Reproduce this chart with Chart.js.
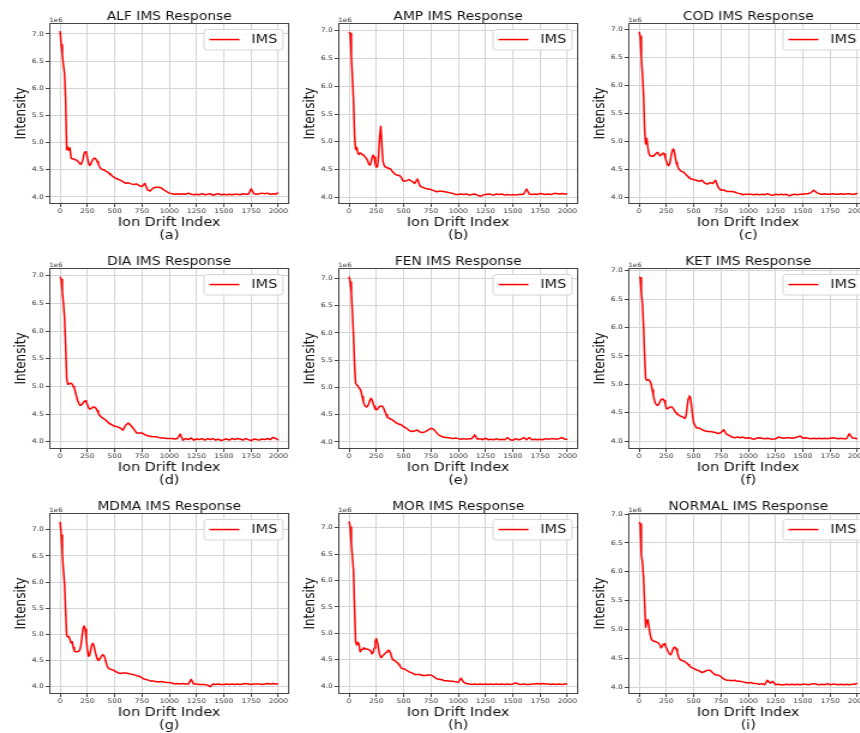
<!DOCTYPE html>
<html>
<head>
<meta charset="utf-8">
<title>IMS Response</title>
<script src="https://cdn.jsdelivr.net/npm/chart.js@4.4.1/dist/chart.umd.min.js"></script>
<style>
  html, body { margin: 0; padding: 0; background: #fff; }
  #grid { position: relative; width: 860px; height: 733px; overflow: hidden; }
  .panel { position: absolute; transform: scaleX(1.2); transform-origin: 0 0; }
  .panel canvas { display: block; }
</style>
</head>
<body>
<div id="grid"></div>
<script>
// Sampled ion drift indices (fine steps on the early peaks, coarser on the flat tail)
const driftIndex = [
  0, 10, 20, 30, 40, 50, 60, 70, 80, 90,
  100, 110, 120, 130, 140, 150, 160, 170, 180, 190,
  200, 210, 220, 230, 240, 250, 260, 270, 280, 290,
  300, 310, 320, 330, 340, 350, 360, 370, 380, 390,
  400, 410, 420, 430, 440, 450, 460, 470, 480, 490,
  500,
  525, 550, 575, 600, 625, 650, 675, 700, 725, 750, 775, 800,
  825, 850, 875, 900, 925, 950, 975, 1000, 1025, 1050, 1075, 1100,
  1125, 1150, 1175, 1200, 1225, 1250, 1275, 1300, 1325, 1350, 1375, 1400,
  1425, 1450, 1475, 1500, 1525, 1550, 1575, 1600, 1625, 1650, 1675, 1700,
  1725, 1750, 1775, 1800, 1825, 1850, 1875, 1900, 1925, 1950, 1975, 2000
];

const xTicks = [0, 250, 500, 750, 1000, 1250, 1500, 1750, 2000];
const yTicks = [4.0, 4.5, 5.0, 5.5, 6.0, 6.5, 7.0];

const samples = ['ALF', 'AMP', 'COD', 'DIA', 'FEN', 'KET', 'MDMA', 'MOR', 'NORMAL'];
const subLabels = ['(a)', '(b)', '(c)', '(d)', '(e)', '(f)', '(g)', '(h)', '(i)'];

// y-axis limits per panel (x1e6)
const yMin = [3.87, 3.88, 3.875, 3.87, 3.87, 3.86, 3.86, 3.85, 3.88];
const yMax = [7.20, 7.14, 7.12, 7.14, 7.19, 7.05, 7.32, 7.28, 7.02];

// Intensity values, x1e6
const alf = [
  7.05, 6.8, 6.62, 6.42, 6.28, 5.8, 4.87, 4.92, 4.86, 4.9,
  4.72, 4.7, 4.7, 4.69, 4.68, 4.68, 4.66, 4.64, 4.61, 4.6,
  4.63, 4.7, 4.8, 4.83, 4.82, 4.72, 4.62, 4.58, 4.6, 4.65,
  4.69, 4.71, 4.71, 4.69, 4.65, 4.6, 4.56, 4.53, 4.51, 4.5,
  4.5, 4.49, 4.47, 4.46, 4.45, 4.43, 4.41, 4.4, 4.38, 4.37,
  4.35,
  4.33, 4.31, 4.28, 4.25, 4.26, 4.24, 4.23, 4.24, 4.21, 4.19, 4.25, 4.13,
  4.11, 4.16, 4.18, 4.18, 4.17, 4.13, 4.1, 4.07, 4.06, 4.05, 4.06, 4.05,
  4.06, 4.05, 4.07, 4.05, 4.04, 4.05, 4.04, 4.06, 4.04, 4.05, 4.06, 4.03,
  4.05, 4.06, 4.04, 4.05, 4.04, 4.05, 4.04, 4.05, 4.05, 4.04, 4.06, 4.05,
  4.05, 4.15, 4.06, 4.05, 4.06, 4.07, 4.06, 4.07, 4.05, 4.06, 4.05, 4.08
];
const amp = [
  6.98, 6.95, 6.55, 6.17, 5.75, 5.1, 4.86, 4.9, 4.8, 4.77,
  4.8, 4.79, 4.77, 4.76, 4.74, 4.72, 4.7, 4.66, 4.6, 4.58,
  4.62, 4.72, 4.76, 4.72, 4.6, 4.54, 4.56, 4.75, 5.1, 5.28,
  4.95, 4.65, 4.58, 4.55, 4.54, 4.53, 4.52, 4.52, 4.51, 4.48,
  4.46, 4.44, 4.42, 4.41, 4.4, 4.4, 4.4, 4.38, 4.35, 4.31,
  4.29,
  4.3, 4.32, 4.29, 4.25, 4.33, 4.2, 4.18, 4.16, 4.15, 4.14, 4.12, 4.1,
  4.11, 4.11, 4.1, 4.09, 4.08, 4.07, 4.05, 4.05, 4.06, 4.05, 4.06, 4.04,
  4.05, 4.06, 4.04, 4.02, 4.04, 4.05, 4.06, 4.05, 4.04, 4.06, 4.05, 4.06,
  4.04, 4.05, 4.04, 4.05, 4.04, 4.05, 4.05, 4.06, 4.15, 4.06, 4.05, 4.06,
  4.05, 4.07, 4.06, 4.05, 4.06, 4.05, 4.07, 4.07, 4.06, 4.07, 4.06, 4.06
];
const cod = [
  6.96, 6.88, 6.5, 6.2, 5.85, 5.2, 4.95, 5.05, 4.88, 4.78,
  4.74, 4.73, 4.73, 4.74, 4.75, 4.77, 4.79, 4.8, 4.77, 4.74,
  4.75, 4.77, 4.79, 4.77, 4.7, 4.64, 4.58, 4.56, 4.6, 4.7,
  4.8, 4.86, 4.84, 4.72, 4.62, 4.56, 4.52, 4.49, 4.47, 4.46,
  4.45, 4.44, 4.42, 4.4, 4.38, 4.36, 4.34, 4.33, 4.32, 4.32,
  4.31,
  4.3, 4.28, 4.3, 4.25, 4.23, 4.26, 4.24, 4.3, 4.17, 4.12, 4.13, 4.1,
  4.1, 4.1, 4.09, 4.07, 4.06, 4.04, 4.05, 4.05, 4.05, 4.04, 4.05, 4.04,
  4.05, 4.04, 4.06, 4.04, 4.03, 4.05, 4.04, 4.05, 4.04, 4.05, 4.02, 4.04,
  4.05, 4.04, 4.05, 4.05, 4.06, 4.06, 4.08, 4.12, 4.08, 4.06, 4.05, 4.06,
  4.05, 4.05, 4.06, 4.05, 4.05, 4.06, 4.05, 4.06, 4.06, 4.05, 4.05, 4.07
];
const dia = [
  6.98, 6.93, 6.72, 6.5, 6.25, 5.75, 5.15, 5.04, 5.04, 5.06,
  5.06, 5.04, 5.0, 4.97, 4.9, 4.82, 4.75, 4.7, 4.66, 4.66,
  4.68, 4.7, 4.73, 4.74, 4.72, 4.67, 4.62, 4.59, 4.6, 4.61,
  4.63, 4.63, 4.62, 4.6, 4.56, 4.52, 4.48, 4.46, 4.44, 4.43,
  4.42, 4.4, 4.39, 4.37, 4.35, 4.33, 4.32, 4.31, 4.3, 4.29,
  4.28,
  4.27, 4.25, 4.21, 4.3, 4.34, 4.29, 4.23, 4.16, 4.16, 4.16, 4.13, 4.11,
  4.1, 4.09, 4.09, 4.08, 4.07, 4.07, 4.06, 4.06, 4.06, 4.05, 4.06, 4.14,
  4.03, 4.06, 4.04, 4.07, 4.03, 4.05, 4.04, 4.06, 4.03, 4.06, 4.04, 4.06,
  4.03, 4.05, 4.02, 4.04, 4.05, 4.03, 4.06, 4.04, 4.06, 4.05, 4.03, 4.06,
  4.04, 4.02, 4.05, 4.04, 4.03, 4.05, 4.04, 4.06, 4.04, 4.08, 4.06, 4.03
];
const fen = [
  7.03, 6.93, 6.75, 6.38, 5.95, 5.4, 5.07, 5.05, 5.03, 4.99,
  4.97, 4.92, 4.83, 4.74, 4.68, 4.65, 4.64, 4.66, 4.7, 4.76,
  4.8, 4.77, 4.71, 4.65, 4.6, 4.59, 4.6, 4.63, 4.65, 4.66,
  4.66, 4.64, 4.6, 4.55, 4.5, 4.45, 4.44, 4.43, 4.42, 4.41,
  4.4, 4.38, 4.37, 4.35, 4.34, 4.33, 4.32, 4.32, 4.31, 4.29,
  4.28,
  4.25, 4.21, 4.19, 4.2, 4.22, 4.18, 4.17, 4.19, 4.22, 4.25, 4.23, 4.17,
  4.12, 4.1, 4.08, 4.08, 4.07, 4.06, 4.07, 4.06, 4.05, 4.06, 4.05, 4.06,
  4.06, 4.13, 4.05, 4.06, 4.04, 4.07, 4.04, 4.05, 4.04, 4.06, 4.04, 4.05,
  4.04, 4.08, 4.04, 4.03, 4.06, 4.04, 4.05, 4.08, 4.04, 4.08, 4.04, 4.05,
  4.04, 4.05, 4.04, 4.06, 4.05, 4.06, 4.06, 4.05, 4.06, 4.08, 4.05, 4.05
];
const ket = [
  6.89, 6.88, 6.63, 6.42, 6.04, 5.5, 5.1, 5.07, 5.08, 5.08,
  5.05, 5.0, 4.9, 4.8, 4.72, 4.66, 4.64, 4.63, 4.65, 4.69,
  4.73, 4.74, 4.74, 4.71, 4.65, 4.57, 4.57, 4.58, 4.6, 4.6,
  4.6, 4.58, 4.55, 4.52, 4.49, 4.47, 4.46, 4.45, 4.44, 4.43,
  4.42, 4.41, 4.4, 4.45, 4.6, 4.75, 4.8, 4.76, 4.62, 4.45,
  4.32,
  4.23, 4.23, 4.2, 4.18, 4.17, 4.17, 4.16, 4.15, 4.13, 4.15, 4.2, 4.12,
  4.1, 4.07, 4.06, 4.07, 4.06, 4.07, 4.05, 4.06, 4.05, 4.03, 4.05, 4.06,
  4.05, 4.04, 4.05, 4.04, 4.03, 4.04, 4.07, 4.06, 4.05, 4.06, 4.06, 4.05,
  4.06, 4.07, 4.09, 4.05, 4.06, 4.05, 4.04, 4.05, 4.04, 4.05, 4.04, 4.05,
  4.04, 4.05, 4.06, 4.05, 4.04, 4.05, 4.04, 4.04, 4.13, 4.06, 4.05, 4.04
];
const mdma = [
  7.15, 6.9, 6.54, 6.22, 5.97, 5.46, 4.98, 4.95, 4.96, 4.9,
  4.84, 4.86, 4.75, 4.68, 4.67, 4.67, 4.67, 4.68, 4.7, 4.78,
  4.95, 5.12, 5.16, 5.1, 4.9, 4.7, 4.58, 4.6, 4.7, 4.8,
  4.83, 4.78, 4.68, 4.6, 4.53, 4.5, 4.52, 4.55, 4.59, 4.61,
  4.6, 4.55, 4.47, 4.4, 4.36, 4.34, 4.34, 4.33, 4.32, 4.31,
  4.3,
  4.27, 4.25, 4.26, 4.26, 4.25, 4.24, 4.23, 4.21, 4.2, 4.17, 4.14, 4.13,
  4.11, 4.11, 4.1, 4.09, 4.1, 4.09, 4.08, 4.08, 4.07, 4.05, 4.06, 4.05,
  4.06, 4.05, 4.05, 4.14, 4.05, 4.05, 4.04, 4.04, 4.04, 4.03, 4.0, 4.05,
  4.04, 4.05, 4.04, 4.04, 4.05, 4.04, 4.05, 4.04, 4.05, 4.04, 4.05, 4.06,
  4.05, 4.04, 4.05, 4.05, 4.05, 4.04, 4.05, 4.06, 4.05, 4.06, 4.05, 4.05
];
const mor = [
  7.12, 7.01, 6.7, 6.45, 6.19, 5.44, 4.84, 4.78, 4.83, 4.8,
  4.65, 4.68, 4.7, 4.72, 4.72, 4.71, 4.7, 4.7, 4.69, 4.68,
  4.65, 4.61, 4.64, 4.72, 4.85, 4.9, 4.82, 4.7, 4.6, 4.54,
  4.55, 4.58, 4.6, 4.62, 4.64, 4.66, 4.68, 4.67, 4.62, 4.55,
  4.5, 4.49, 4.48, 4.46, 4.45, 4.42, 4.4, 4.37, 4.34, 4.33,
  4.33,
  4.3, 4.27, 4.25, 4.22, 4.22, 4.22, 4.2, 4.2, 4.21, 4.21, 4.18, 4.14,
  4.13, 4.12, 4.1, 4.1, 4.09, 4.09, 4.08, 4.07, 4.15, 4.07, 4.05, 4.04,
  4.03, 4.04, 4.03, 4.04, 4.03, 4.04, 4.03, 4.04, 4.03, 4.04, 4.03, 4.04,
  4.03, 4.04, 4.03, 4.04, 4.06, 4.04, 4.03, 4.04, 4.03, 4.03, 4.04, 4.04,
  4.05, 4.04, 4.05, 4.04, 4.04, 4.03, 4.04, 4.03, 4.04, 4.03, 4.04, 4.04
];
const normal = [
  6.86, 6.83, 6.3, 6.17, 5.91, 5.45, 5.04, 5.15, 5.17, 5.05,
  4.92, 4.84, 4.81, 4.8, 4.79, 4.79, 4.78, 4.77, 4.76, 4.73,
  4.68, 4.7, 4.74, 4.75, 4.72, 4.68, 4.64, 4.6, 4.57, 4.56,
  4.6, 4.66, 4.69, 4.69, 4.66, 4.6, 4.53, 4.49, 4.47, 4.46,
  4.46, 4.45, 4.44, 4.42, 4.41, 4.39, 4.37, 4.35, 4.34, 4.33,
  4.32,
  4.3, 4.28, 4.25, 4.27, 4.29, 4.29, 4.25, 4.21, 4.21, 4.18, 4.14, 4.12,
  4.12, 4.11, 4.12, 4.1, 4.1, 4.09, 4.08, 4.07, 4.08, 4.06, 4.06, 4.05,
  4.06, 4.04, 4.12, 4.07, 4.1, 4.04, 4.05, 4.04, 4.04, 4.05, 4.04, 4.05,
  4.04, 4.05, 4.04, 4.05, 4.05, 4.04, 4.05, 4.06, 4.05, 4.04, 4.05, 4.04,
  4.06, 4.04, 4.05, 4.05, 4.04, 4.05, 4.04, 4.05, 4.04, 4.05, 4.05, 4.07
];

const series = [alf, amp, cod, dia, fen, ket, mdma, mor, normal];

const FONT = '"DejaVu Sans", "Liberation Sans", sans-serif';
const TEXT = '#111';

// titles, axis labels, legend and frame drawn like matplotlib
const panelDecor = {
  id: 'panelDecor',
  afterDraw(chart, args, opts) {
    const { ctx, chartArea: a } = chart;
    const cx = (a.left + a.right) / 2;
    ctx.save();

    // frame (spines)
    ctx.strokeStyle = '#444';
    ctx.lineWidth = 1;
    ctx.strokeRect(a.left + 0.5, a.top + 0.5, a.right - a.left - 1, a.bottom - a.top - 1);

    // legend box
    const bx = a.right - 71.5, by = a.top + 6, bw = 65.8, bh = 20.5;
    ctx.fillStyle = 'rgba(255,255,255,0.85)';
    ctx.strokeStyle = '#d6d6d6';
    ctx.beginPath();
    ctx.roundRect(bx + 0.5, by + 0.5, bw, bh, 2.5);
    ctx.fill();
    ctx.stroke();
    ctx.strokeStyle = 'red';
    ctx.lineWidth = 1.5;
    ctx.beginPath();
    ctx.moveTo(bx + 5, by + bh / 2 + 0.3);
    ctx.lineTo(bx + 30, by + bh / 2 + 0.3);
    ctx.stroke();
    ctx.fillStyle = TEXT;
    ctx.font = '12px ' + FONT;
    ctx.textAlign = 'left';
    ctx.textBaseline = 'middle';
    ctx.fillText('IMS', bx + 40, by + bh / 2 + 0.8);

    // title
    ctx.textBaseline = 'alphabetic';
    ctx.textAlign = 'center';
    ctx.font = '11.5px ' + FONT;
    ctx.fillText(opts.title, cx, a.top - 3);

    // offset text
    ctx.textAlign = 'left';
    ctx.font = '6px ' + FONT;
    ctx.fillStyle = '#333';
    ctx.fillText('1e6', a.left, a.top - 1.5);

    // x label + sub label
    ctx.fillStyle = TEXT;
    ctx.textAlign = 'center';
    ctx.font = '12px ' + FONT;
    ctx.fillText('Ion Drift Index', cx, a.bottom + 21.7);
    ctx.fillText(opts.sub, cx, a.bottom + 34.5);

    // y label
    ctx.translate(a.left - 20, (a.top + a.bottom) / 2);
    ctx.rotate(-Math.PI / 2);
    ctx.fillText('Intensity', 0, 0);

    ctx.restore();
  }
};

const gridEl = document.getElementById('grid');

samples.forEach((name, i) => {
  const wrap = document.createElement('div');
  wrap.className = 'panel';
  wrap.style.left = (i % 3) * 289.4 + 'px';
  wrap.style.top = Math.floor(i / 3) * 245 + 'px';
  const canvas = document.createElement('canvas');
  canvas.width = 242;
  canvas.height = 245;
  wrap.appendChild(canvas);
  gridEl.appendChild(wrap);

  const points = driftIndex.map((x, k) => ({ x: x, y: series[i][k] }));

  new Chart(canvas.getContext('2d'), {
    type: 'line',
    data: {
      datasets: [{
        label: 'IMS',
        data: points,
        borderColor: 'red',
        borderWidth: 1.5,
        borderJoinStyle: 'round',
        pointRadius: 0,
        tension: 0,
        fill: false
      }]
    },
    options: {
      responsive: false,
      animation: false,
      devicePixelRatio: 1,
      layout: { padding: { top: 23, right: 1, left: 0, bottom: 0 } },
      plugins: {
        legend: { display: false },
        tooltip: { enabled: false },
        title: { display: false },
        panelDecor: { title: name + ' IMS Response', sub: subLabels[i] }
      },
      scales: {
        x: {
          type: 'linear',
          min: -100,
          max: 2099,
          afterBuildTicks: s => { s.ticks = xTicks.map(v => ({ value: v })); },
          afterFit: s => { s.height = 41; },
          border: { display: false },
          grid: { color: '#d4d4d4', lineWidth: 1, tickColor: '#444', tickLength: 3 },
          ticks: {
            autoSkip: false, maxRotation: 0, minRotation: 0, padding: 1,
            color: '#333', font: { family: FONT, size: 6.3 },
            callback: v => String(v)
          }
        },
        y: {
          type: 'linear',
          min: yMin[i],
          max: yMax[i],
          afterBuildTicks: s => { s.ticks = yTicks.filter(v => v >= yMin[i] && v <= yMax[i]).map(v => ({ value: v })); },
          afterFit: s => { s.width = 41; },
          border: { display: false },
          grid: { color: '#d4d4d4', lineWidth: 1, tickColor: '#444', tickLength: 3 },
          ticks: {
            padding: 1.5,
            color: '#333', font: { family: FONT, size: 6.3 },
            callback: v => v.toFixed(1)
          }
        }
      }
    },
    plugins: [panelDecor]
  });
});
</script>
</body>
</html>
